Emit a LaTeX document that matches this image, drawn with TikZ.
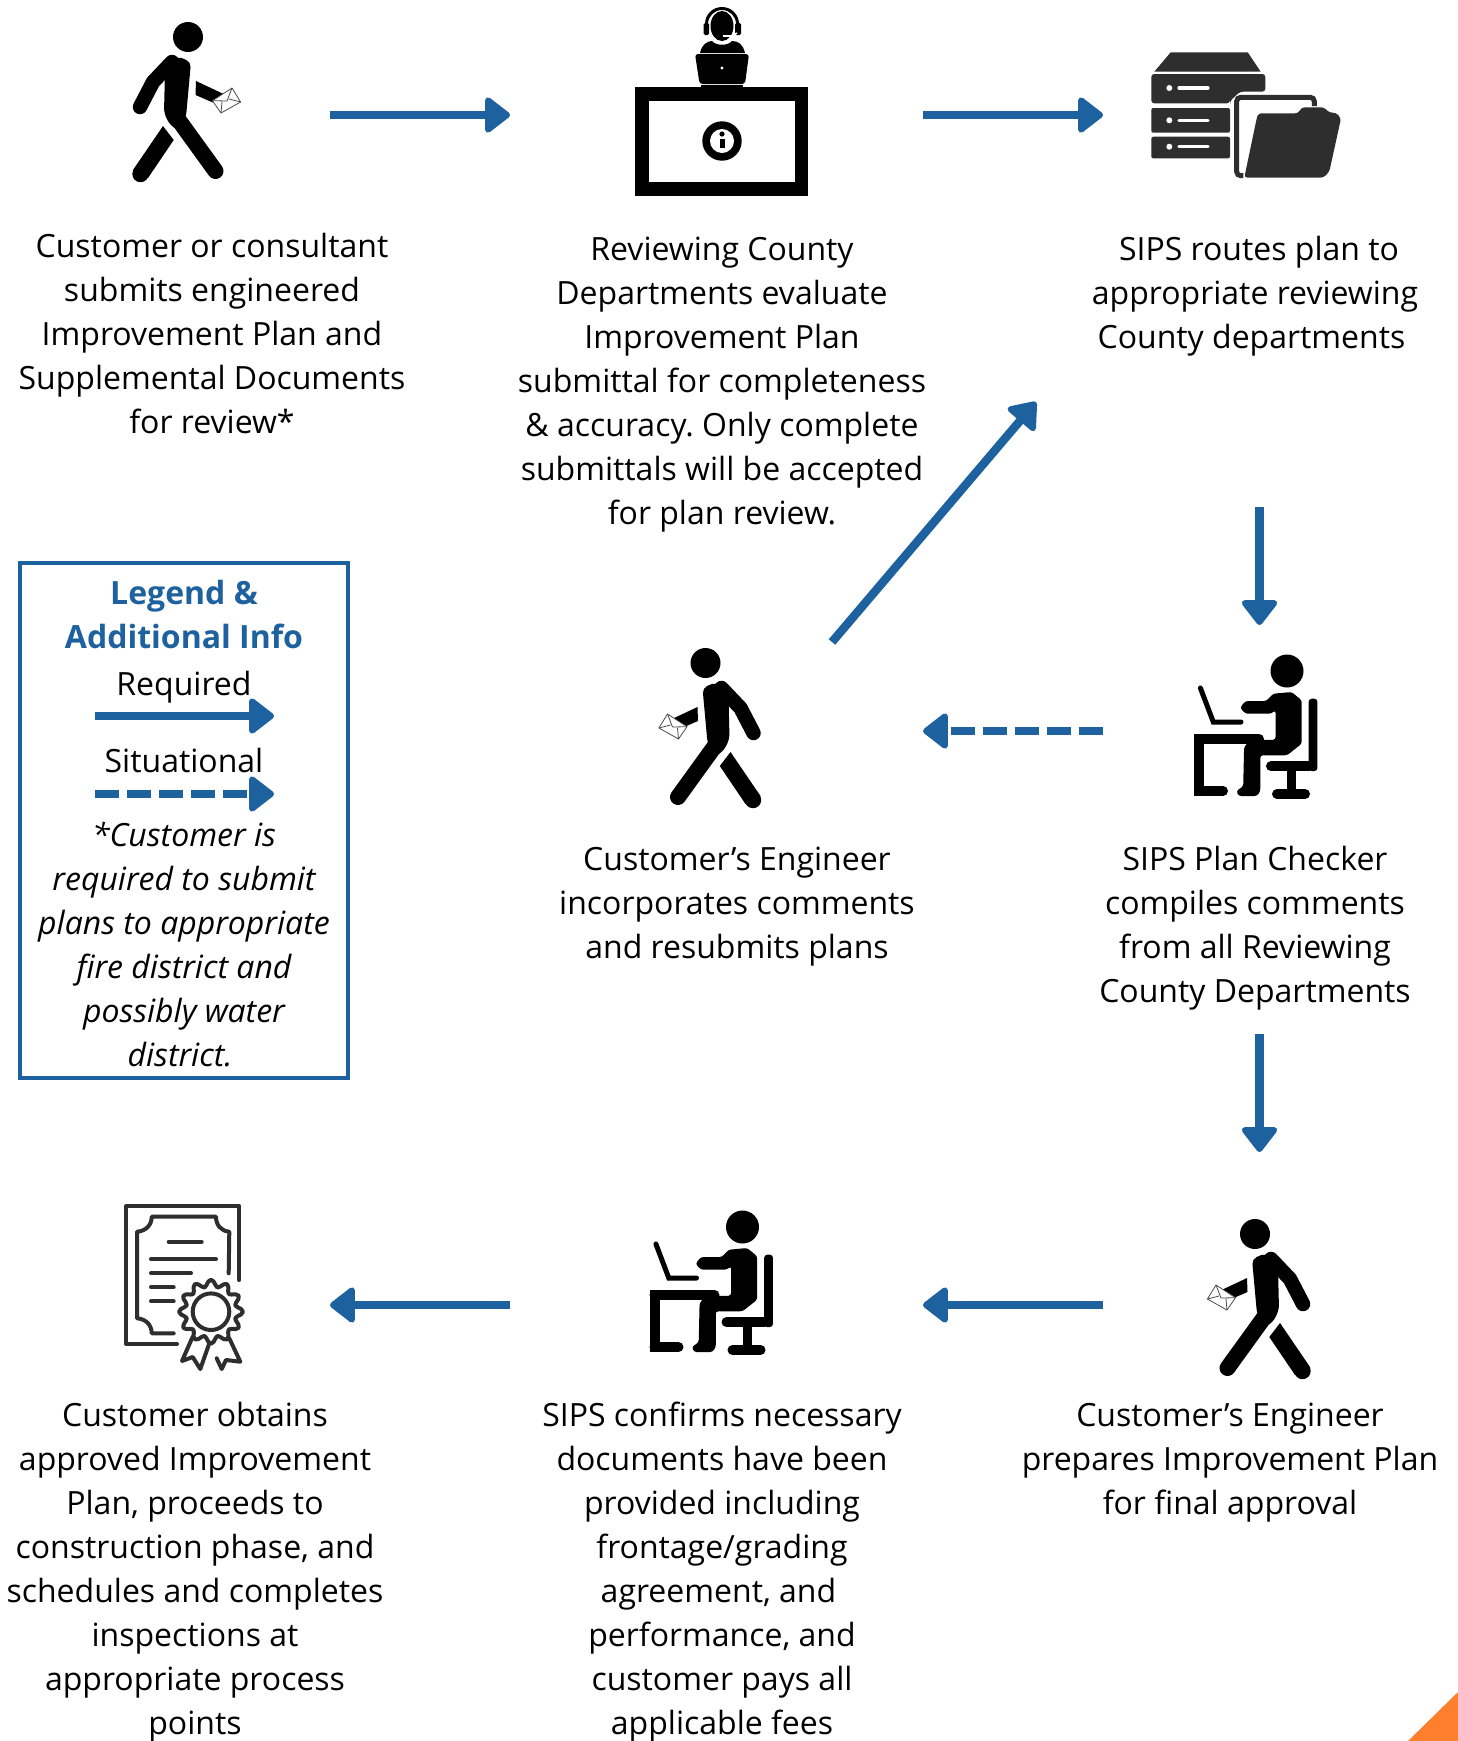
\documentclass[tikz,border=0pt]{standalone}
\usepackage{fontspec}
\setmainfont{Open Sans}
\usetikzlibrary{arrows.meta}
\definecolor{sipsblue}{HTML}{1E619F}
\definecolor{icongrey}{HTML}{2E2E2E}
\definecolor{cornerorange}{HTML}{FF7F2F}
\tikzset{
  body/.style={font=\fontsize{32}{44}\selectfont\frenchspacing, align=center, inner sep=0pt},
  legendhead/.style={body, font=\fontsize{32}{44}\selectfont\bfseries, text=sipsblue},
  legendnote/.style={body, font=\fontsize{32}{44}\selectfont\itshape},
  legendbox/.style={draw=sipsblue, line width=4.5pt, inner sep=0pt, minimum width=328pt, minimum height=515pt},
  reqarrow/.style={draw=sipsblue, line width=8.5pt, -{Triangle[length=27pt,width=40pt,line width=6pt,round,fill=sipsblue]}},
  sitarrow/.style={reqarrow, dash pattern=on 24pt off 8pt},
  certline/.style={draw=icongrey, line width=4pt, line cap=round, line join=round},
  pics/walker/.style={code={
    \fill (0,0) circle[radius=15pt];
    \draw[line width=14.5pt, line cap=round, line join=round] (-16,25) -- (-35,45) -- (-48,70);
    \fill[rounded corners=5pt] (-11,19) -- (3,25) -- (-2,80) -- (-10,93) -- (-18,88) -- (-24,76) -- (-23,33) -- cycle;
    \draw[line width=16pt, line cap=round] (-13,78) -- (27.5,134);
    \fill (-25,89) -- (-14.3,103) -- (-40,141) -- (-55,133) -- cycle;
    \fill (-47.5,137) circle[radius=8.2pt];
    \fill (8,44) -- (35.6,57) -- (26,66) -- (7.5,58) -- cycle;
    \begin{scope}[xshift=#1]
    \draw[fill=white, draw=black!70, line width=0.8pt, line join=round] (44,51) -- (52.6,65) -- (33,76) -- (24.5,63.7) -- cycle;
    \draw[draw=black!70, line width=0.8pt] (24.5,63.7) -- (39,64) -- (44,51) (33,76) -- (34,65) (52.6,65) -- (41,62);
    \end{scope}
  }},
  pics/walker/.default=0pt,
  deskperson/.pic={
    \fill (0,0) circle[radius=16.5pt];
    \fill[rounded corners=2.5pt] (-20.7,30) -- (-13.8,22.7) -- (4.6,21) -- (14.7,29.3) -- (14.7,72.7) -- (0,84.3) -- (-26.7,84.3) -- (-26.7,120) -- (-30,125) -- (-48.4,125) -- (-50.7,120) -- (-43.8,115.3) -- (-42.9,76) -- (-36.9,69.3) -- (-11.5,68.7) -- (-11.5,39.3) -- (-16,42.7) -- (-41.5,42.7) -- (-47,36.7) -- (-41.5,30) -- cycle;
    \draw[line width=5pt, line cap=round] (-86.6,17) -- (-73.7,51) -- (-46,51);
    \draw[line width=10pt, line cap=round] (-88,68) -- (-28,68);
    \fill (-93,63) rectangle (-83,125);
    \draw[line width=10pt, line cap=round] (-88,120) -- (-64,120);
    \fill[rounded corners=3pt] (21.7,100) -- (21.7,27.7) -- (30.4,27.7) -- (30.4,100) -- cycle;
    \draw[line width=10pt, line cap=round] (-16,95.2) -- (22,95.2);
    \fill (0,100) rectangle (9.2,120);
    \draw[line width=10pt, line cap=round] (-10,123) -- (18,123);
  }
}
\begin{document}
\begin{tikzpicture}[x=1pt, y=-1pt]
\useasboundingbox (0,0) rectangle (1458,1741);
\fill[white] (0,0) rectangle (1458,1741);
\fill[cornerorange] (1408,1741) -- (1458,1692) -- (1458,1741) -- cycle;
% people
\pic at (188,37) {walker};
\pic[xscale=-1] at (705.5,663) {walker=-6pt};
\pic[xscale=-1] at (1255,1234) {walker=-5pt};
\pic at (1287,671) {deskperson};
\pic at (742.5,1227) {deskperson};
% help desk
\fill (635,87) rectangle (808,196);
\fill[white] (649,100.7) rectangle (795,181.7);
\fill (722,141) circle[radius=19.7pt];
\fill[white] (722,141) circle[radius=12pt];
\fill (722,134) circle[radius=2.6pt];
\fill (719.5,138.5) rectangle (724.5,148);
\fill (722,7) arc[start angle=90, end angle=0, radius=17pt] -- (739,27) -- (736,27) -- (736,24) arc[start angle=0, end angle=90, radius=14pt] arc[start angle=90, end angle=180, radius=14pt] -- (708,27) -- (705,27) -- (705,24) arc[start angle=180, end angle=90, radius=17pt] -- cycle;
\fill (722,26) ellipse[x radius=11.5pt, y radius=15pt];
\fill[rounded corners=1.5pt] (703.5,23) rectangle (709,35);
\fill[rounded corners=1.5pt] (735,23) rectangle (741,35);
\draw[white, line width=1.6pt] (737,33) -- (732,36) -- (723,36);
\fill (700,53) .. controls (702,44) and (708,41) .. (712,41) .. controls (716,46) and (728,46) .. (732,41) .. controls (738,41) and (743,44) .. (745,53) -- cycle;
\fill[rounded corners=3pt] (695,54) -- (749,54) -- (745,84) -- (699.6,84) -- cycle;
\fill[white] (722,68) circle[radius=1.7pt];
\fill (701,85.3) rectangle (743,86.8);
% server and folder
\begin{scope}[icongrey]
\fill (1154.3,71.7) -- (1170.7,52.3) -- (1247.7,52.3) -- (1260.7,71.7) -- cycle;
\fill[rounded corners=3pt] (1151.3,74) -- (1265.3,74) -- (1265.3,91.7) -- (1240,91.7) -- (1230,101) -- (1230,103.3) -- (1151.3,103.3) -- cycle;
\fill[rounded corners=2pt] (1151.3,108) -- (1230,108) -- (1230,132.7) -- (1151.3,132.7) -- cycle;
\fill[rounded corners=2pt] (1151.3,136.7) -- (1230,136.7) -- (1230,158.3) -- (1151.3,158.3) -- cycle;
\draw[line width=5pt, rounded corners=4pt] (1314.3,106) -- (1314.3,97.3) -- (1236.7,97.3) -- (1236.7,175.7) -- (1243.3,175.7);
\fill[rounded corners=3pt] (1258.3,113.3) -- (1298.3,113.3) -- (1301.7,107.3) -- (1324,107.3) -- (1329.3,112.7) -- (1336,112.7) -- (1341,118.3) -- (1329.3,171.7) -- (1323.3,177.7) -- (1244.3,177.7) -- (1256.7,118.3) -- cycle;
\end{scope}
\foreach \y in {88, 120.3, 146.7} {
  \fill[white] (1169.3,\y) circle[radius=3pt];
  \draw[white, line width=3.3pt, line cap=round] (1179,\y) -- (1208,\y);
}
% certificate
\begin{scope}[xshift=1pt]
\draw[certline] (238.3,1280) -- (238.3,1206) -- (125.3,1206) -- (125.3,1344) -- (176,1344);
\draw[certline] (227.7,1273.3) -- (228.3,1231.7) .. controls (220,1231) and (215,1225) .. (215,1216.7) -- (150.7,1216.7) .. controls (150.7,1225) and (145,1231) .. (136,1231.7) -- (136,1318.3) .. controls (145,1319) and (150.7,1325) .. (150.7,1333.3) -- (172.7,1333.3);
\draw[certline] (167.7,1241.7) -- (200.7,1241.7);
\draw[certline] (150,1259.3) -- (215,1259.3);
\draw[certline] (150,1273.3) -- (190,1273.3);
\draw[certline] (150,1287.3) -- (172.7,1287.3);
\draw[certline] (150,1301.3) -- (172.7,1301.3);
\draw[certline] plot[domain=0:355, samples=72] ({210+(28.5+3.5*cos(12*\x))*cos(\x)},{1311.7+(28.5+3.5*cos(12*\x))*sin(\x)}) -- cycle;
\draw[certline] (210,1311.7) circle[radius=18.3pt];
\draw[certline] (191.7,1336.7) -- (181,1361) -- (191.7,1357) -- (199.3,1369) -- (208.3,1343.3);
\draw[certline] (228.3,1338.3) -- (239.3,1361.7) -- (225,1360) -- (220.7,1369) -- (215.7,1358.3);
\end{scope}
% texts
\node[body] (T_0_0) at (212,333) {Customer or consultant\\submits engineered\\Improvement Plan and\\Supplemental Documents\\for review*};
\node[body] (T_0_1) at (722,385) {Reviewing County\\Departments evaluate\\Improvement Plan\\submittal for completeness\\\& accuracy. Only complete\\submittals will be accepted\\for plan review.};
\node[body] (T_0_2) at (1255,296.5) {\hspace*{8pt}SIPS routes plan to\\appropriate reviewing\\County departments\hspace*{7pt}};
\node[body] (T_1_1) at (737,906.5) {Customer’s Engineer\\incorporates comments\\and resubmits plans};
\node[body] (T_1_2) at (1255,928.5) {SIPS Plan Checker\\compiles comments\\from all Reviewing\\County Departments};
\node[body] (T_2_2) at (1230,1462.5) {Customer’s Engineer\\prepares Improvement Plan\\for final approval};
\node[body] (T_2_1) at (722,1572.5) {SIPS confirms necessary\\documents have been\\provided including\\frontage/grading\\agreement, and\hspace*{7pt}\mbox{}\\performance, and\\customer pays all\\applicable fees};
\node[body] (T_2_0) at (195,1572.5) {Customer obtains\\approved Improvement\\Plan, proceeds to\\construction phase, and\\schedules and completes\\inspections at\\appropriate process\\points};
% legend
\node[legendbox] (L_box) at (184,820.5) {};
\node[legendhead] (L_head) at (184,614) {Legend \&\\Additional Info};
\node[body] (L_req) at (184,687) {Required};
\node[body] (L_sit) at (184,760) {Situational};
\node[legendnote] (L_note) at (184,944.5) {*Customer is\\required to submit\\plans to appropriate\\fire district and\\possibly water\\district.\hspace*{8pt}};
% arrows
\coordinate (A_0_0) at (330,115);
\coordinate (A_0_1) at (510,115);
\coordinate (A_1_0) at (923,115);
\coordinate (A_1_1) at (1103,115);
\coordinate (A_2_0) at (832,642);
\coordinate (A_2_1) at (1036,402);
\coordinate (A_3_0) at (1259.5,507);
\coordinate (A_3_1) at (1259.5,625);
\coordinate (A_4_0) at (1103,731);
\coordinate (A_4_1) at (923,731);
\coordinate (A_5_0) at (1259.5,1034);
\coordinate (A_5_1) at (1259.5,1152);
\coordinate (A_6_0) at (1103,1305);
\coordinate (A_6_1) at (923,1305);
\coordinate (A_7_0) at (510,1305);
\coordinate (A_7_1) at (330,1305);
\coordinate (L_0_0) at (95,716);
\coordinate (L_0_1) at (274,716);
\coordinate (L_1_0) at (95,794);
\coordinate (L_1_1) at (274,794);
\draw[reqarrow] (A_0_0) -- (A_0_1);
\draw[reqarrow] (A_1_0) -- (A_1_1);
\draw[reqarrow] (A_2_0) -- (A_2_1);
\draw[reqarrow] (A_3_0) -- (A_3_1);
\draw[sitarrow] (A_4_0) -- (A_4_1);
\draw[reqarrow] (A_5_0) -- (A_5_1);
\draw[reqarrow] (A_6_0) -- (A_6_1);
\draw[reqarrow] (A_7_0) -- (A_7_1);
\draw[reqarrow] (L_0_0) -- (L_0_1);
\draw[sitarrow] (L_1_0) -- (L_1_1);
\end{tikzpicture}
\end{document}
